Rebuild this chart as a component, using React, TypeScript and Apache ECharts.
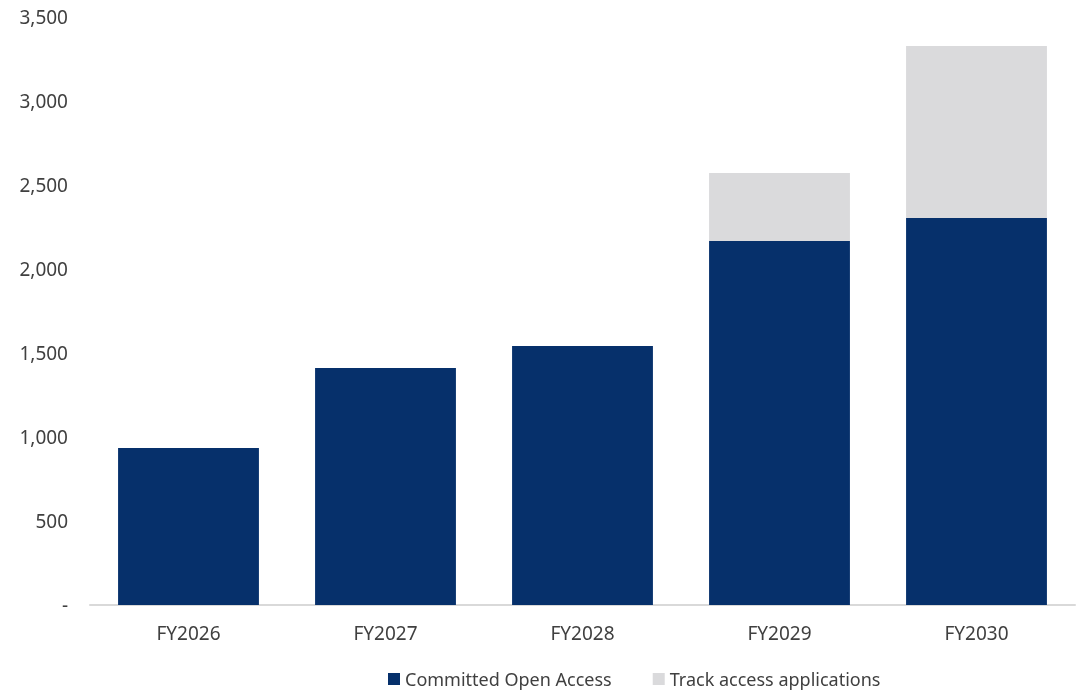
import React, { useEffect, useRef } from "react";
import * as echarts from "echarts";

const categories = ["FY2026", "FY2027", "FY2028", "FY2029", "FY2030"];
const committedOpenAccess = [935, 1411, 1542, 2167, 2304];
const trackAccessApplications = [0, 0, 0, 404, 1023];
const yTicks = [0, 500, 1000, 1500, 2000, 2500, 3000, 3500];

export default function App() {
  const ref = useRef<HTMLDivElement>(null);
  useEffect(() => {
    const chart = echarts.init(ref.current!, null, { renderer: "svg" });
    const font = "Noto Sans";
    chart.setOption({
      animation: false,
      textStyle: { fontFamily: font },
      grid: { left: 90, right: 14, top: 17, bottom: 88, containLabel: false },
      legend: {
        left: 383,
        top: 665,
        itemWidth: 12,
        itemHeight: 12,
        itemGap: 41,
        icon: "rect",
        textStyle: { fontFamily: font, fontSize: 18, color: "#404040", lineHeight: 18 },
        data: ["Committed Open Access", "Track access applications"],
      },
      xAxis: {
        type: "category",
        data: categories,
        axisLine: { lineStyle: { color: "#D9D9D9", width: 2 } },
        axisTick: { show: false },
        axisLabel: { color: "#404040", fontSize: 19, margin: 18, fontFamily: font },
      },
      yAxis: {
        type: "value",
        min: 0,
        max: yTicks[yTicks.length - 1],
        interval: 500,
        splitLine: { show: false },
        axisLine: { show: false },
        axisTick: { show: false },
        axisLabel: {
          color: "#404040",
          fontSize: 19,
          margin: 22,
          fontFamily: font,
          formatter: (v: number) => (v === 0 ? "-" : v.toLocaleString("en-US")),
        },
      },
      series: [
        {
          name: "Committed Open Access",
          type: "bar",
          stack: "total",
          barWidth: "71.5%",
          data: committedOpenAccess,
          itemStyle: { color: "#06306B" },
        },
        {
          name: "Track access applications",
          type: "bar",
          stack: "total",
          barWidth: "71.5%",
          data: trackAccessApplications,
          itemStyle: { color: "#DADADC" },
        },
      ],
    });
    return () => chart.dispose();
  }, []);
  return (
    <div
      ref={ref}
      style={{ position: "fixed", left: 0, top: 0, width: 1089, height: 693 }}
    />
  );
}
